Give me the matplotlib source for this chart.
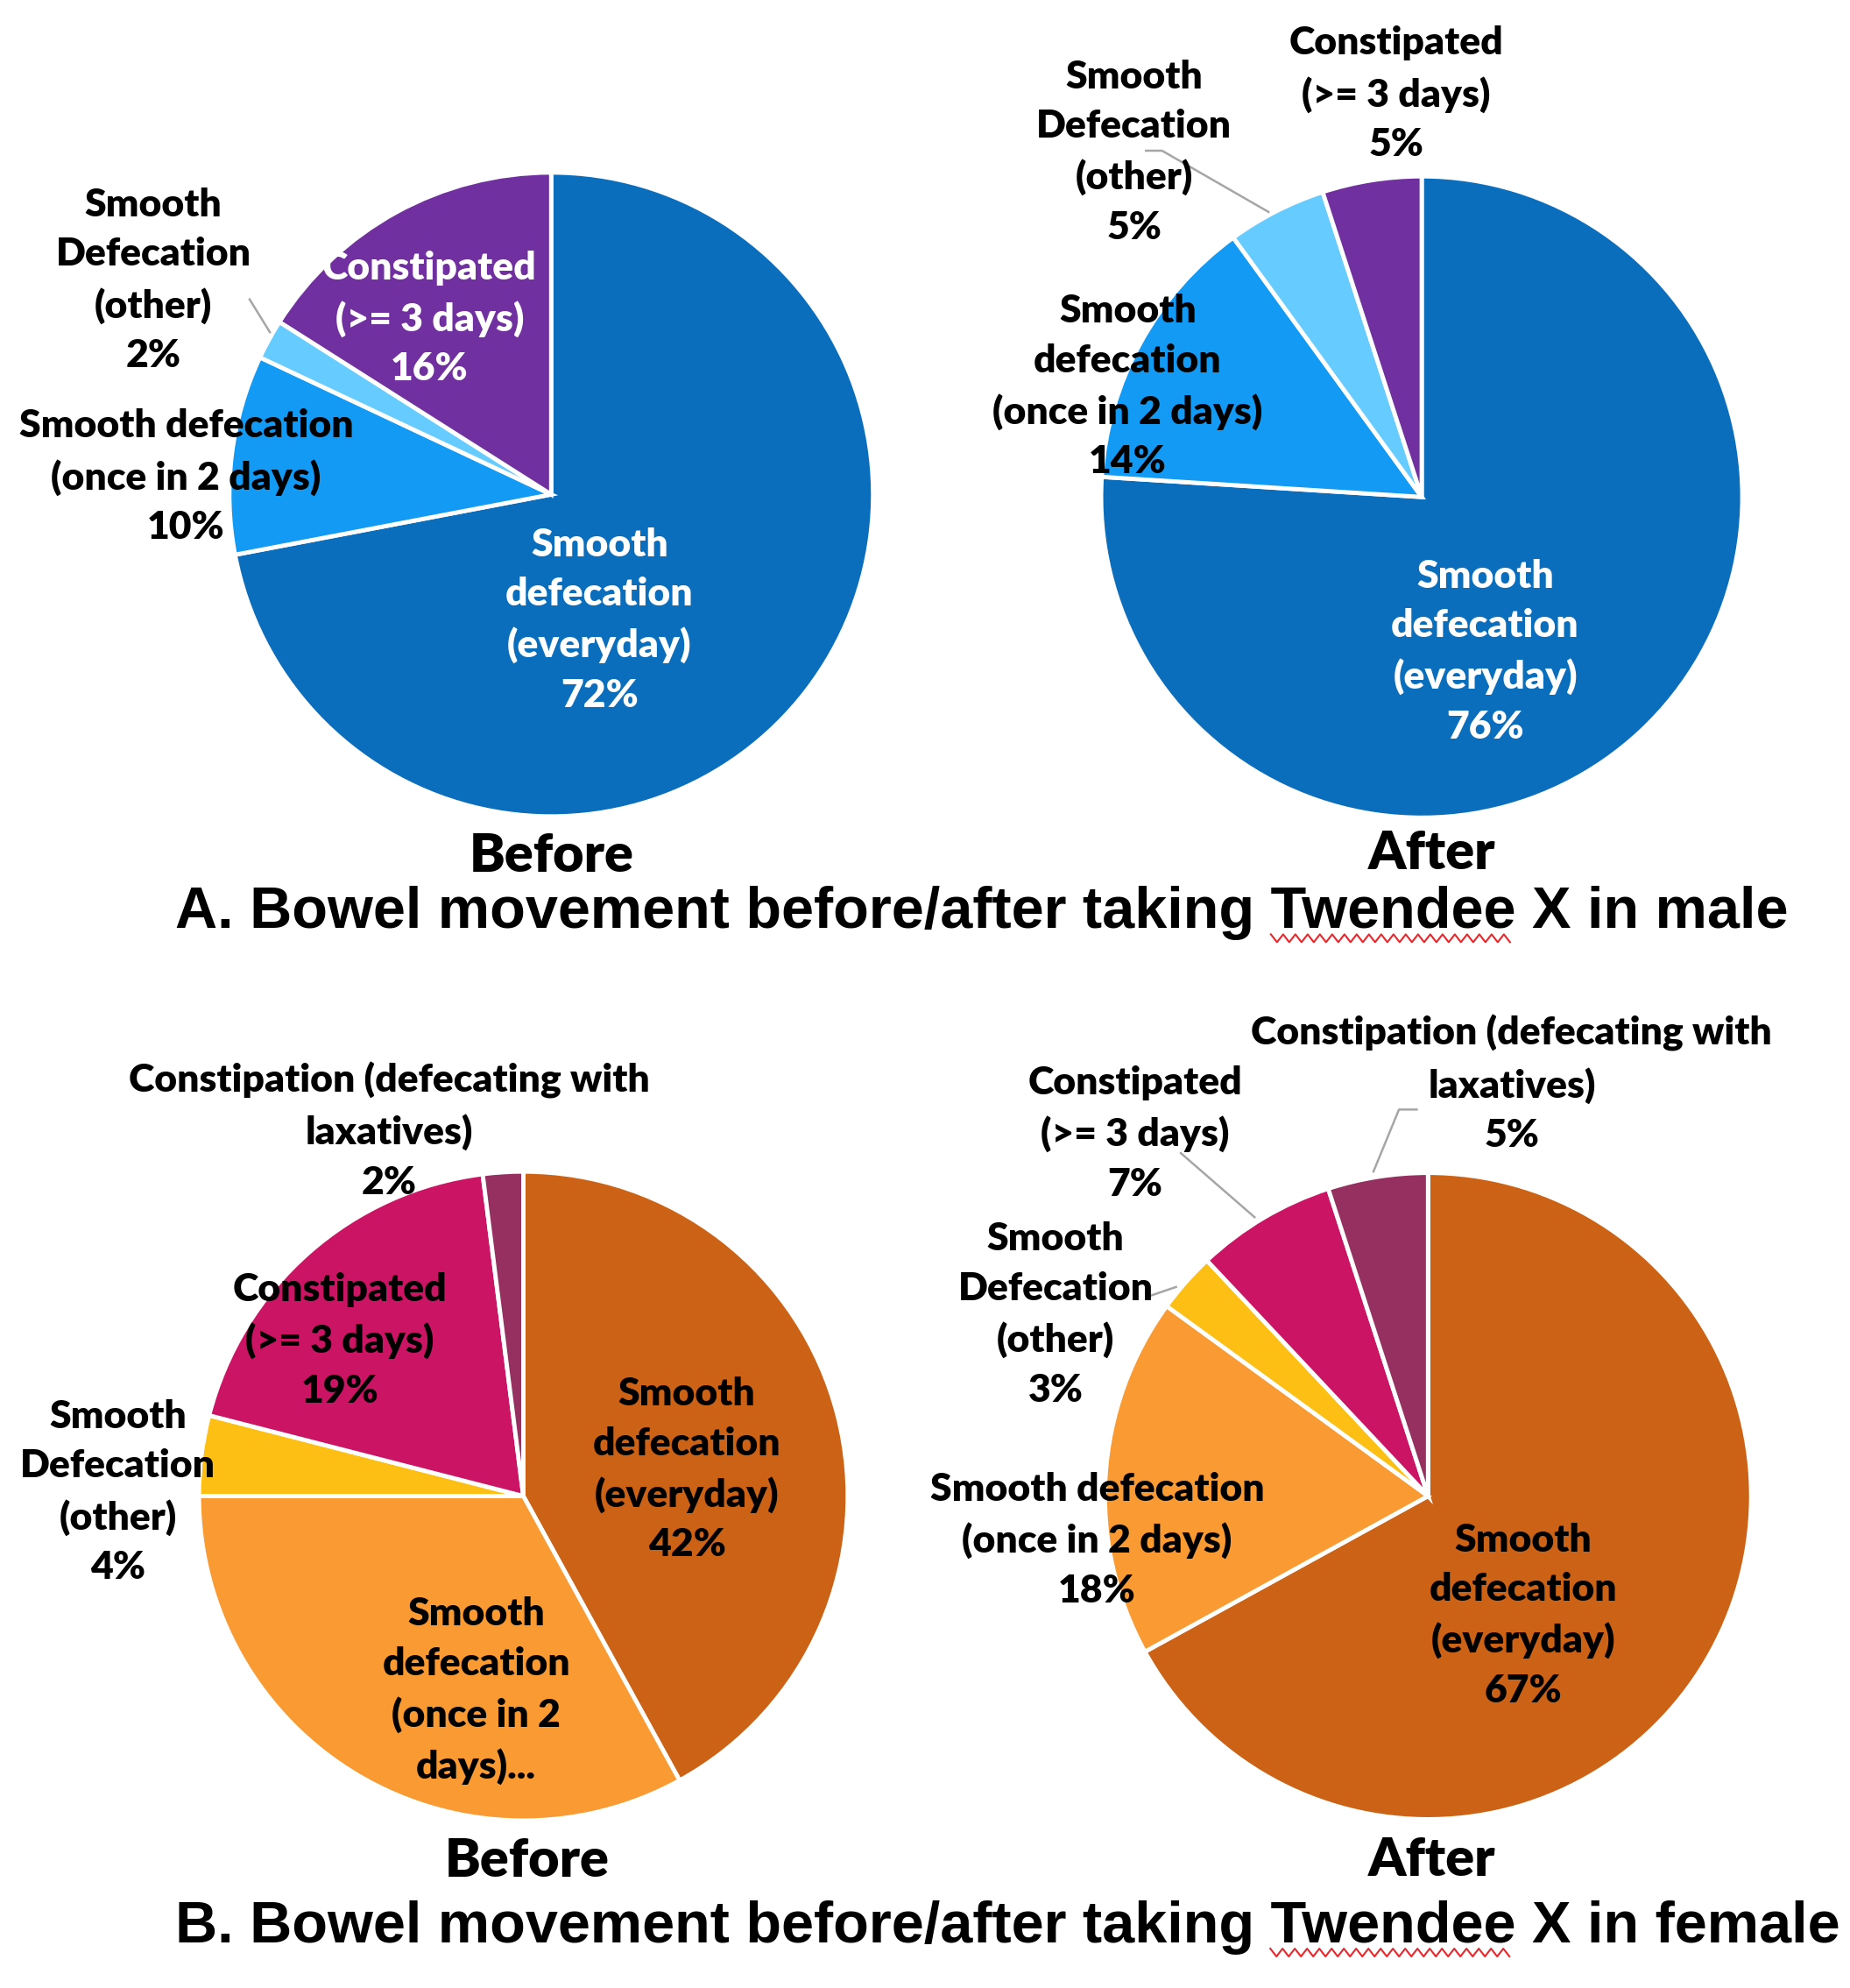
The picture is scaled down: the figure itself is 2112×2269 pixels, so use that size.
import numpy as np
import matplotlib.pyplot as plt
from matplotlib.lines import Line2D

plt.rcParams['font.family'] = ['Lato', 'DejaVu Sans']

# ---- data ----
male_before = [72, 10, 2, 16]
male_after = [76, 14, 5, 5]
female_before = [42, 33, 4, 19, 2]
female_after = [67, 18, 3, 7, 5]

male_colors = ['#0b6ebd', '#139af5', '#66ccff', '#7030a0']
female_colors = ['#cb6216', '#f99a32', '#fdbf14', '#cc1464', '#953060']

male_before_names = ["Smooth\ndefecation\n(everyday)", "Smooth defecation\n(once in 2 days)",
                     "Smooth\nDefecation\n(other)", "Constipated\n(>= 3 days)"]
male_after_names = ["Smooth\ndefecation\n(everyday)", "Smooth\ndefecation\n(once in 2 days)",
                    "Smooth\nDefecation\n(other)", "Constipated\n(>= 3 days)"]
female_before_names = ["Smooth\ndefecation\n(everyday)", "Smooth\ndefecation\n(once in 2\ndays)...",
                       "Smooth\nDefecation\n(other)", "Constipated\n(>= 3 days)",
                       "Constipation (defecating with\nlaxatives)"]
female_after_names = ["Smooth\ndefecation\n(everyday)", "Smooth defecation\n(once in 2 days)",
                      "Smooth\nDefecation\n(other)", "Constipated\n(>= 3 days)",
                      "Constipation (defecating with\nlaxatives)"]

# ---- layout (reference pixel coords at 1460x1568, label spots in pie radii) ----
REF_W, REF_H = 1460, 1568
pies = [
    dict(vals=male_before, names=male_before_names, colors=male_colors,
         center=(435, 390), r=254,
         pos=[(0.15, -0.39), (-1.134, 0.055), (-1.236, 0.665), (-0.378, 0.547)],
         tcol=['white', 'black', 'black', 'white'],
         show_pct=[True, True, True, True],
         leaders={2: [(-0.937, 0.606), (-0.874, 0.504)]},
         sub='Before', sub_xy=(435, 675)),
    dict(vals=male_after, names=male_after_names, colors=male_colors,
         center=(1122, 392), r=253,
         pos=[(0.198, -0.482), (-0.917, 0.344), (-0.897, 1.075), (-0.079, 1.257)],
         tcol=['white', 'black', 'black', 'black'],
         show_pct=[True, True, True, True],
         leaders={2: [(-0.86, 1.08), (-0.81, 1.08), (-0.478, 0.889)]},
         sub='After', sub_xy=(1130, 673)),
    dict(vals=female_before, names=female_before_names, colors=female_colors,
         center=(413, 1180), r=256,
         pos=[(0.504, 0.082), (-0.145, -0.60), (-1.25, 0.012), (-0.566, 0.48), (-0.414, 1.125)],
         tcol=['black'] * 5,
         show_pct=[True, False, True, True, True],
         leaders={},
         sub='Before', sub_xy=(416, 1468)),
    dict(vals=female_after, names=female_after_names, colors=female_colors,
         center=(1127, 1180), r=255,
         pos=[(0.294, -0.369), (-1.024, -0.137), (-1.153, 0.561), (-0.906, 1.122), (0.259, 1.275)],
         tcol=['black'] * 5,
         show_pct=[True] * 5,
         leaders={2: [(-0.859, 0.620), (-0.780, 0.647)],
                  3: [(-0.765, 1.061), (-0.537, 0.863)],
                  4: [(-0.035, 1.196), (-0.09, 1.196), (-0.169, 1.004)]},
         sub='After', sub_xy=(1130, 1467)),
]

titles = ["A. Bowel movement before/after taking Twendee X in male",
          "B. Bowel movement before/after taking Twendee X in female"]
title_xy = [(775, 720), (795, 1520)]

fig = plt.figure(figsize=(21.12, 22.69), dpi=100)

for p in pies:
    cx, cy = p['center']
    r = p['r']
    ax = fig.add_axes([(cx - r) / REF_W, (REF_H - cy - r) / REF_H, 2 * r / REF_W, 2 * r / REF_H])
    ax.pie(p['vals'], colors=p['colors'], startangle=90, counterclock=False, radius=1,
           wedgeprops=dict(edgecolor='white', linewidth=3.5))
    ax.set_xlim(-1, 1)
    ax.set_ylim(-1, 1)
    ax.axis('off')
    for i, (name, v) in enumerate(zip(p['names'], p['vals'])):
        txt = name + ("\n%d%%" % v if p['show_pct'][i] else "")
        x, y = p['pos'][i]
        ax.text(x, y, txt, ha='center', va='center', fontsize=32, fontweight='heavy',
                color=p['tcol'][i], linespacing=1.5, clip_on=False, zorder=5)
    for i, pts in p['leaders'].items():
        xs = [q[0] for q in pts]
        ys = [q[1] for q in pts]
        ax.plot(xs, ys, color='#a6a6a6', lw=1.8, clip_on=False, zorder=4)
    sx, sy = p['sub_xy']
    fig.text(sx / REF_W, 1 - sy / REF_H, p['sub'], ha='center', va='center',
             fontsize=44, fontweight='heavy')

title_props = dict(fontsize=48, fontweight='bold', family=['Liberation Sans', 'DejaVu Sans'])
title_objs = []
for t, (tx, ty) in zip(titles, title_xy):
    title_objs.append(fig.text(tx / REF_W, 1 - ty / REF_H, t, ha='center', va='center', **title_props))

# red spell-check squiggle under "Twendee"
fig.canvas.draw()
rend = fig.canvas.get_renderer()
for tobj, t in zip(title_objs, titles):
    bb = tobj.get_window_extent(rend)
    word = "Twendee"
    pre = t[:t.index(word) + len(word)]
    tmp1 = fig.text(0, 0, pre, **title_props)
    tmp2 = fig.text(0, 0, word, **title_props)
    x1 = bb.x0 + tmp1.get_window_extent(rend).width
    x0 = x1 - tmp2.get_window_extent(rend).width
    tmp1.remove()
    tmp2.remove()
    step = 7.0
    xs = np.arange(x0, x1, step)
    ys = bb.y0 + 2 + np.where(np.arange(len(xs)) % 2 == 0, 4.5, -4.5)
    W, H = fig.bbox.width, fig.bbox.height
    fig.add_artist(Line2D(xs / W, ys / H, color='#e8262b', lw=1.5, transform=fig.transFigure))

fig.savefig('out.png', dpi=100)
